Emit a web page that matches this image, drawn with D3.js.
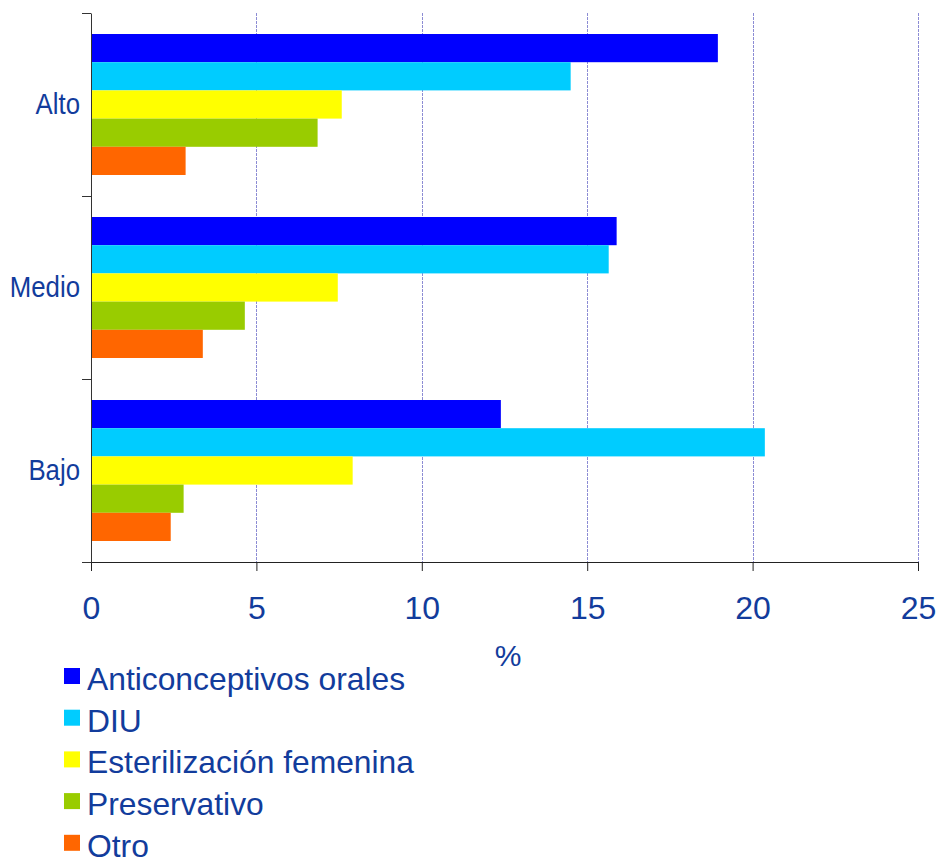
<!DOCTYPE html>
<html>
<head>
<meta charset="utf-8">
<script src="https://cdn.jsdelivr.net/npm/d3@7"></script>
<style>
  body { margin: 0; background: #fff; }
  text { font-family: "Liberation Sans", Arial, sans-serif; fill: #123c9c; }
</style>
</head>
<body>
<div id="chart"></div>
<script>
// categories (top to bottom) and series
const groups = ["Alto", "Medio", "Bajo"];
const series = ["Anticonceptivos orales", "DIU", "Esterilización femenina", "Preservativo", "Otro"];
const colors = ["#0000ff", "#00ccff", "#ffff00", "#99cc00", "#ff6600"];

// values in %, one array per series, same order as groups
const anticonceptivos = [18.95, 15.89, 12.39];
const diu = [14.50, 15.65, 20.37];
const esterilizacion = [7.58, 7.46, 7.91];
const preservativo = [6.85, 4.65, 2.80];
const otro = [2.86, 3.38, 2.41];

const xTicks = [0, 5, 10, 15, 20, 25];

function draw() {
    const width = 942, height = 858;
    const margin = { top: 13, left: 91, right: 24, bottom: 296 };
    const values = [anticonceptivos, diu, esterilizacion, preservativo, otro];

    const svg = d3.select("#chart")
        .append("svg")
        .attr("width", width)
        .attr("height", height);

    const x = d3.scaleLinear()
        .domain([0, 25])
        .range([margin.left, width - margin.right]);

    const y0 = d3.scaleBand()
        .domain(groups)
        .range([margin.top, height - margin.bottom])
        .padding(0);

    const y1 = d3.scaleBand()
        .domain(series)
        .range([0, y0.bandwidth()])
        .paddingInner(0)
        .paddingOuter(0.745);

    const yTop = margin.top, yBottom = y0.range()[1];

    // gridlines
    svg.append("g")
        .selectAll("line")
        .data(xTicks.filter(d => d > 0))
        .join("line")
        .attr("x1", d => Math.round(x(d)) + 0.5)
        .attr("x2", d => Math.round(x(d)) + 0.5)
        .attr("y1", yTop)
        .attr("y2", yBottom)
        .attr("stroke", "#8c8cd4")
        .attr("stroke-dasharray", "3,1");

    // bars
    const rows = [];
    groups.forEach((g, i) => {
        series.forEach((s, j) => rows.push({ group: g, series: s, value: values[j][i], color: colors[j] }));
    });

    svg.append("g")
        .selectAll("rect")
        .data(rows)
        .join("rect")
        .attr("x", x(0))
        .attr("y", d => y0(d.group) + y1(d.series))
        .attr("width", d => x(d.value) - x(0))
        .attr("height", y1.bandwidth())
        .attr("fill", d => d.color);

    // x axis
    const xAxis = d3.axisBottom(x)
        .tickValues(xTicks)
        .tickFormat(d3.format("d"))
        .tickSize(9)
        .tickSizeOuter(0)
        .tickPadding(25);

    const gx = svg.append("g")
        .attr("transform", `translate(0, ${yBottom})`)
        .call(xAxis);
    gx.selectAll("text").style("font-size", "32px");
    gx.selectAll("line, path").attr("stroke", "#222");

    // y axis: boundary ticks
    const yEdges = d3.scaleLinear().domain([0, groups.length]).range([yTop, yBottom]);
    const gyTicks = svg.append("g")
        .attr("transform", `translate(${margin.left}, 0)`)
        .call(d3.axisLeft(yEdges).ticks(groups.length).tickFormat("").tickSize(9).tickSizeOuter(0));
    gyTicks.selectAll("line, path").attr("stroke", "#333");

    // y axis: category labels
    const gy = svg.append("g")
        .attr("transform", `translate(${margin.left}, 0)`)
        .call(d3.axisLeft(y0).tickSize(0).tickPadding(9));
    gy.select(".domain").remove();
    gy.selectAll("text")
        .style("font-size", "30px")
        .attr("x", -11 / 0.86)
        .attr("transform", "scale(0.86,1)");

    // axis title
    svg.append("text")
        .attr("x", 508)
        .attr("y", 666)
        .attr("text-anchor", "middle")
        .style("font-size", "30px")
        .text("%");

    // legend
    const legend = svg.append("g")
        .selectAll("g")
        .data(series)
        .join("g")
        .attr("transform", (d, i) => `translate(64, ${690 + i * 41.7})`);

    legend.append("rect")
        .attr("x", 0)
        .attr("y", -22)
        .attr("width", 16)
        .attr("height", 16)
        .attr("fill", (d, i) => colors[i]);

    legend.append("text")
        .attr("x", 23)
        .attr("y", 0)
        .style("font-size", "31.8px")
        .text(d => d);
}

document.addEventListener("DOMContentLoaded", draw);
</script>
</body>
</html>
